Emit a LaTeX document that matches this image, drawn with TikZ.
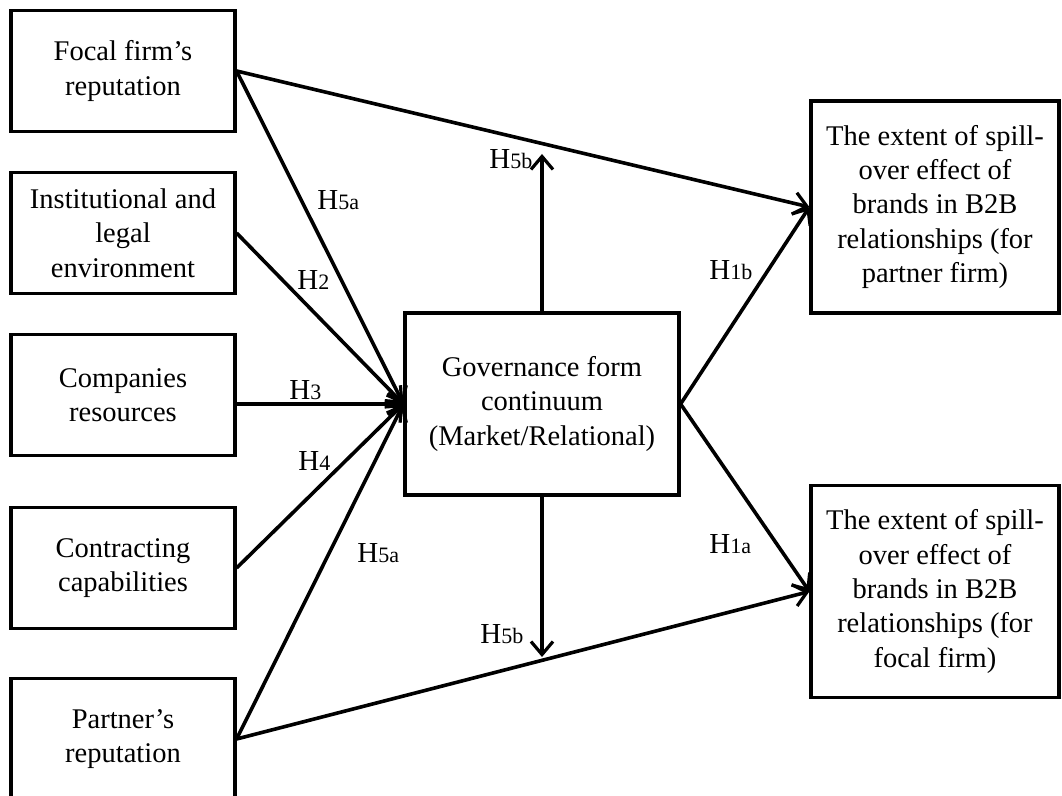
\documentclass[tikz,border=0pt]{standalone}
\usepackage{fontspec}
\setmainfont{Liberation Serif}
\usetikzlibrary{arrows.meta}
\newcommand\hyp[1]{H{\fontsize{11}{12}\selectfont #1}}
\begin{document}
\begin{tikzpicture}[x=0.5pt,y=-0.5pt,
  box/.style={draw,line width=1.6pt,inner sep=0pt,align=center,
    font=\fontsize{14.25pt}{17.2pt}\selectfont},
  leftbox/.style={box,minimum width=112pt,minimum height=60.5pt},
  rightbox/.style={box,minimum width=124pt,minimum height=106pt},
  link/.style={line width=1.8pt,-{Straight Barb[length=6.5pt,width=11pt,line width=1.6pt]}},
  hlab/.style={anchor=base west,inner sep=0pt,font=\fontsize{14.5pt}{17pt}\selectfont}]
\useasboundingbox (0,0) rectangle (1062,796);
\clip (0,0) rectangle (1062,796);

% antecedents
\node[leftbox] (b1) at (123,71)  {Focal firm’s\\reputation};
\node[leftbox] (b2) at (123,233) {Institutional and\\legal\\environment};
\node[leftbox] (b3) at (123,395) {Companies\\resources};
\node[leftbox] (b4) at (123,568) {Contracting\\capabilities};
\node[leftbox] (b5) at (123,739) {Partner’s\\reputation};

% mediator
\node[box,minimum width=137pt,minimum height=91pt] (gov) at (542,404)
  {Governance form\\continuum\\(Market/Relational)};

% outcomes
\node[rightbox] (r1) at (935,207)
  {The extent of spill-\\over effect of\\brands in B2B\\relationships (for\\partner firm)};
\node[rightbox] (r2) at (935,591.5)
  {The extent of spill-\\over effect of\\brands in B2B\\relationships (for\\focal firm)};

% ends of the moderating arrows
\coordinate (m1) at (542,154);
\coordinate (m2) at (542,657);

% paths into the governance form
\draw[link] (b1.east) -- (gov.west);
\draw[link] (b2.east) -- (gov.west);
\draw[link] (b3.east |- gov.west) -- (gov.west);
\draw[link] (b4.east) -- (gov.west);
\draw[link] (b5.east) -- (gov.west);

% paths to the spill-over outcomes
\draw[link] (b1.east) -- (r1.west);
\draw[link] (b5.east) -- (r2.west);
\draw[link] (gov.east) -- (r1.west);
\draw[link] (gov.east) -- (r2.west);
\draw[link] (gov.north) -- (m1);
\draw[link] (gov.south) -- (m2);

% hypothesis labels
\node[hlab] (l5a) at (317,210) {\hyp{5a}};
\node[hlab] (l2)  at (297,290) {\hyp{2}};
\node[hlab] (l3)  at (289,400) {\hyp{3}};
\node[hlab] (l4)  at (298,471) {\hyp{4}};
\node[hlab] (l5c) at (357,563) {\hyp{5a}};
\node[hlab] (l5b) at (489,169) {\hyp{5b}};
\node[hlab] (l5d) at (480,644) {\hyp{5b}};
\node[hlab] (l1b) at (709,280) {\hyp{1b}};
\node[hlab] (l1a) at (709,554) {\hyp{1a}};
\end{tikzpicture}
\end{document}
